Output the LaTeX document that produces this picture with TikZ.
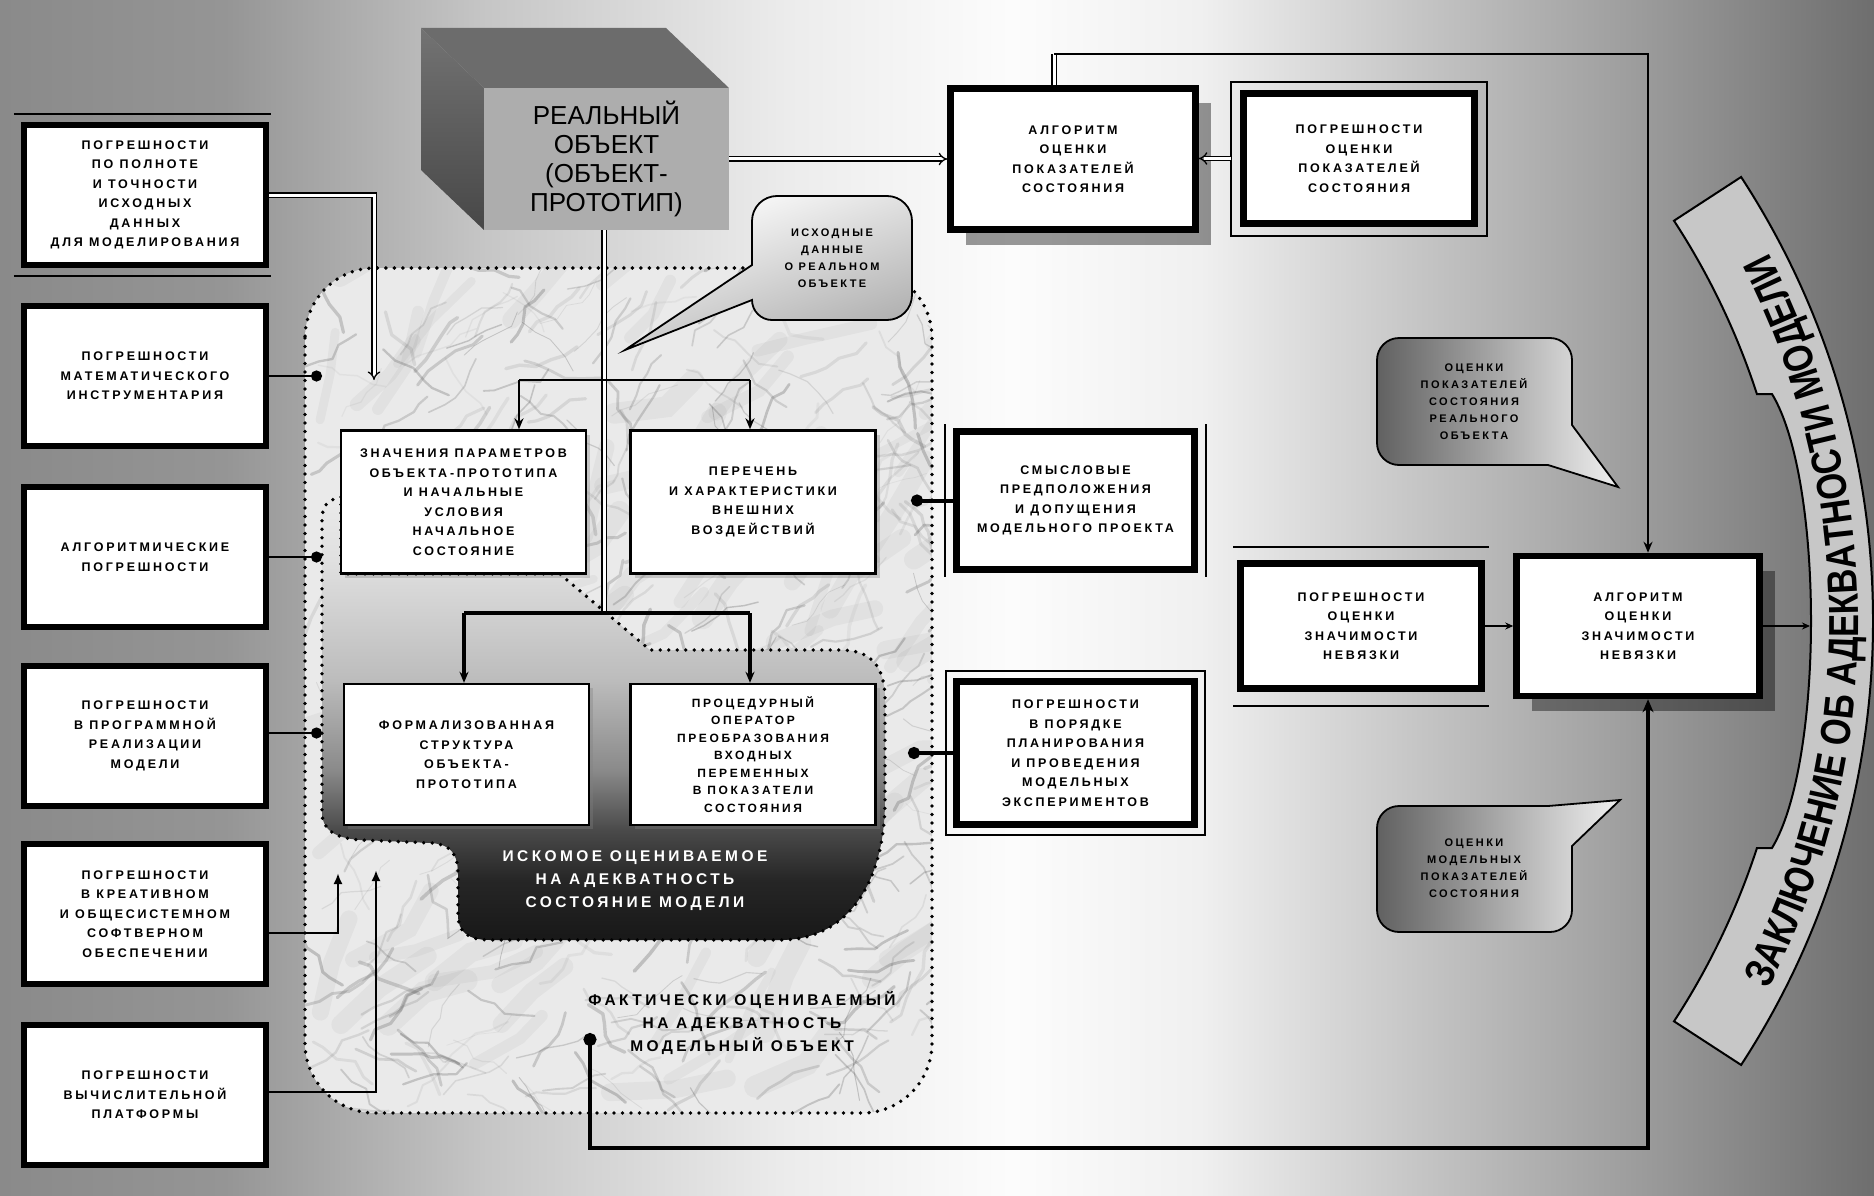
\documentclass[tikz,border=0pt]{standalone}
\usepackage{fontspec}
\setmainfont{Liberation Sans}
\newfontfamily\spacedsans{Liberation Sans}[LetterSpace=22]
\newfontfamily\arcfont{Liberation Sans}[FakeStretch=0.82]
\usetikzlibrary{arrows.meta,shadows,decorations.text}

% palette
\definecolor{bg0}{HTML}{8A8A8A}
\definecolor{bg1}{HTML}{959595}
\definecolor{bg2}{HTML}{C6C6C6}
\definecolor{bg3}{HTML}{ECECEC}
\definecolor{bg4}{HTML}{FCFCFC}
\definecolor{bg5}{HTML}{F0F0F0}
\definecolor{bg6}{HTML}{C4C4C4}
\definecolor{bg7}{HTML}{9A9A9A}
\definecolor{bg8}{HTML}{6E6E6E}
\definecolor{in1}{HTML}{EAEAEA}
\definecolor{in2}{HTML}{E0E0E0}
\definecolor{in3}{HTML}{BCBCBC}
\definecolor{in4}{HTML}{8A8A8A}
\definecolor{in5}{HTML}{4A4A4A}
\definecolor{in6}{HTML}{262626}
\definecolor{in7}{HTML}{181818}
\definecolor{marblebase}{HTML}{EAEAEA}
\definecolor{objfront}{HTML}{ADADAD}
\definecolor{objtop}{HTML}{6C6C6C}

\pgfdeclarehorizontalshading{bgshade}{100bp}{color(0bp)=(bg0); color(25bp)=(bg0);
  color(31bp)=(bg1); color(38bp)=(bg2); color(46bp)=(bg3); color(52bp)=(bg4);
  color(57bp)=(bg5); color(63bp)=(bg6); color(69bp)=(bg7); color(75bp)=(bg8); color(100bp)=(bg8)}
\pgfdeclareverticalshading{innershade}{100bp}{color(0bp)=(in7); color(25bp)=(in7);
  color(31.8bp)=(in6); color(37.4bp)=(in5); color(44.2bp)=(in4); color(54.3bp)=(in3);
  color(67.9bp)=(in2); color(75bp)=(in1); color(100bp)=(in1)}

\newcommand\bxtext{\spacedsans\bfseries\fontsize{12.5}{19.5}\selectfont}
\newcommand\bxtight{\spacedsans\bfseries\fontsize{12}{17.5}\selectfont}
\newcommand\cltext{\spacedsans\bfseries\fontsize{11}{17}\selectfont}
\newcommand\rgtext{\spacedsans\bfseries\fontsize{15.5}{23}\selectfont}
\newcommand\objtext{\fontsize{26}{29}\selectfont}
\newcommand\arctext{\arcfont\bfseries\fontsize{42}{42}\selectfont}

\begin{document}
\begin{tikzpicture}[x=1pt,y=-1pt,
  heavy/.style={draw=black, line width=6.5pt, fill=white, align=center, inner sep=1pt, font=\bxtext},
  lbox/.style={heavy, minimum width=242pt, minimum height=140pt},
  cbox/.style={draw=black, line width=2.4pt, fill=white, align=center, inner sep=1pt,
    font=\bxtext, minimum width=245pt, minimum height=143pt,
    drop shadow={shadow xshift=4pt, shadow yshift=-4pt, opacity=0.35}},
  bigshadow/.style={drop shadow={shadow xshift=15pt, shadow yshift=-15pt, fill=black, opacity=0.4}},
  rule/.style={draw=black, line width=1.6pt},
  dotline/.style={draw=black, line width=3.8pt, dash pattern=on 0pt off 8.5pt, line cap=round},
  link/.style={draw=black, line width=2.6pt},
  thinlink/.style={draw=black, line width=1.6pt},
  dbl/.style={draw=black, line width=1.3pt, double=white, double distance=3pt},
  tip/.style={-{Stealth[length=11pt,width=9pt]}},
  dotend/.style={-{Circle[length=11pt]}},
  balloon/.style={draw=black, line width=1.8pt},
]
\useasboundingbox (0,0) rectangle (1874,1196);

% ---------- backdrop ----------
\shade[shading=bgshade] (0,0) rectangle (1874,1196);

% ---------- curved conclusion banner ----------
\path[draw=black, line width=2pt, top color=black!22, middle color=black!4, bottom color=black!22]
  (1741.1,177) arc[start angle=33.1, end angle=-33.1, radius=813pt]
  -- (1674,1021.3) arc[start angle=-33.1, end angle=-18.04, radius=733pt]
  -- (1772,848) .. controls (1824,762) and (1824,480) .. (1772,394)
  -- (1756.9,394) arc[start angle=18.04, end angle=33.1, radius=733pt] -- cycle;
\path[decorate, decoration={text along path, text align=center,
    text={|\arctext|ЗАКЛЮЧЕНИЕ ОБ АДЕКВАТНОСТИ МОДЕЛИ}}]
  (1744.1,1032.5) arc[start angle=-31, end angle=31, radius=798pt];

% ---------- marble region: the model object ----------
\begin{scope}
  \clip[rounded corners=70pt] (305,268) rectangle (932,1113);
  \fill[marblebase] (305,268) rectangle (932,1113);
  \pgfmathsetseed{20231}
  % soft cloudy bands
  \foreach \j in {1,...,90}{
    \pgfmathsetmacro{\bx}{300+640*rnd}
    \pgfmathsetmacro{\by}{260+860*rnd}
    \pgfmathsetmacro{\ba}{-45+30*rand}
    \pgfmathsetmacro{\bw}{8+14*rnd}
    \draw[black, line width=\bw pt, opacity=0.035, line cap=round]
      (\bx,\by) -- ++({\ba+15*rand}:{30+40*rnd}) -- ++({\ba+15*rand}:{30+40*rnd});
  }
  % fine veins
  \foreach \i in {1,...,420}{
    \pgfmathsetmacro{\vx}{300+640*rnd}
    \pgfmathsetmacro{\vy}{260+860*rnd}
    \pgfmathsetmacro{\va}{rnd<0.6 ? -40+30*rand : 40+30*rand}
    \pgfmathsetmacro{\vw}{0.7+2.8*rnd}
    \pgfmathsetmacro{\vo}{0.06+0.24*rnd}
    \draw[black!65, line width=\vw pt, opacity=\vo, line cap=round, line join=round]
      (\vx,\vy) -- ++({\va+25*rand}:{8+12*rnd}) -- ++({\va+25*rand}:{8+12*rnd})
      -- ++({\va+25*rand}:{8+12*rnd}) -- ++({\va+25*rand}:{8+12*rnd})
      -- ++({\va+25*rand}:{8+12*rnd});
  }
\end{scope}
\draw[dotline, rounded corners=70pt] (305,268) rectangle (932,1113);

% ---------- inner region: the sought model state ----------
\shade[shading=innershade, dotline]
  (341,497) .. controls (328,500) and (322,505) .. (322,520) -- (322,812)
  .. controls (322,830) and (335,838) .. (360,840) -- (432,843)
  .. controls (452,845) and (458,855) .. (458,875) -- (458,915)
  .. controls (458,932) and (468,940) .. (490,940) -- (780,940)
  .. controls (850,940) and (885,880) .. (885,800) -- (885,700)
  .. controls (885,665) and (870,650) .. (840,650) -- (650,650)
  -- (560,574) -- (341,574) -- cycle;

% ---------- real object (3D block) ----------
\fill[objtop] (421,28) -- (666,28) -- (729,88) -- (484,88) -- cycle;
\shade[top color=black!55, bottom color=black!72] (421,28) -- (484,88) -- (484,230) -- (421,170) -- cycle;
\node[fill=objfront, minimum width=245pt, minimum height=142pt, inner sep=0pt,
  font=\objtext, align=center] (obj) at (606.5,159) {РЕАЛЬНЫЙ\\ОБЪЕКТ\\(ОБЪЕКТ-\\ПРОТОТИП)};

% ---------- error sources (left column) ----------
\node[lbox] (b1) at (145,195) {ПОГРЕШНОСТИ\\ПО ПОЛНОТЕ\\И ТОЧНОСТИ\\ИСХОДНЫХ\\ДАННЫХ\\ДЛЯ МОДЕЛИРОВАНИЯ};
\node[lbox] (b2) at (145,376) {ПОГРЕШНОСТИ\\МАТЕМАТИЧЕСКОГО\\ИНСТРУМЕНТАРИЯ};
\node[lbox] (b3) at (145,557) {АЛГОРИТМИЧЕСКИЕ\\ПОГРЕШНОСТИ};
\node[lbox] (b4) at (145,736) {ПОГРЕШНОСТИ\\В ПРОГРАММНОЙ\\РЕАЛИЗАЦИИ\\МОДЕЛИ};
\node[lbox] (b5) at (145,914) {ПОГРЕШНОСТИ\\В КРЕАТИВНОМ\\И ОБЩЕСИСТЕМНОМ\\СОФТВЕРНОМ\\ОБЕСПЕЧЕНИИ};
\node[lbox] (b6) at (145,1095) {ПОГРЕШНОСТИ\\ВЫЧИСЛИТЕЛЬНОЙ\\ПЛАТФОРМЫ};
\draw[rule] ([xshift=-7pt,yshift=8pt]b1.north west) -- ([xshift=2pt,yshift=8pt]b1.north east);
\draw[rule] ([xshift=-7pt,yshift=-8pt]b1.south west) -- ([xshift=2pt,yshift=-8pt]b1.south east);

% ---------- model components ----------
\node[cbox] (vals) at (463.5,502) {ЗНАЧЕНИЯ ПАРАМЕТРОВ\\ОБЪЕКТА-ПРОТОТИПА\\И НАЧАЛЬНЫЕ\\УСЛОВИЯ\\НАЧАЛЬНОЕ\\СОСТОЯНИЕ};
\node[cbox] (list) at (753,502) {ПЕРЕЧЕНЬ\\И ХАРАКТЕРИСТИКИ\\ВНЕШНИХ\\ВОЗДЕЙСТВИЙ};
\node[cbox, minimum height=141pt] (struct) at (466.5,754.5) {ФОРМАЛИЗОВАННАЯ\\СТРУКТУРА\\ОБЪЕКТА-\\ПРОТОТИПА};
\node[cbox, minimum height=141pt, font=\bxtight] (proc) at (753,754.5) {ПРОЦЕДУРНЫЙ\\ОПЕРАТОР\\ПРЕОБРАЗОВАНИЯ\\ВХОДНЫХ\\ПЕРЕМЕННЫХ\\В ПОКАЗАТЕЛИ\\СОСТОЯНИЯ};

\node[font=\rgtext, text=white, align=center] (sought) at (635,881) {ИСКОМОЕ ОЦЕНИВАЕМОЕ\\НА АДЕКВАТНОСТЬ\\СОСТОЯНИЕ МОДЕЛИ};
\node[font=\rgtext, align=center] (actual) at (742,1023) {ФАКТИЧЕСКИ ОЦЕНИВАЕМЫЙ\\НА АДЕКВАТНОСТЬ\\МОДЕЛЬНЫЙ ОБЪЕКТ};

% ---------- assessment chain (right) ----------
\node[heavy, minimum width=245pt, minimum height=141pt, bigshadow] (algS) at (1073,159) {АЛГОРИТМ\\ОЦЕНКИ\\ПОКАЗАТЕЛЕЙ\\СОСТОЯНИЯ};
\node[heavy, minimum width=231pt, minimum height=130pt] (errS) at (1359,158.5) {ПОГРЕШНОСТИ\\ОЦЕНКИ\\ПОКАЗАТЕЛЕЙ\\СОСТОЯНИЯ};
\draw[rule] ([xshift=-9pt,yshift=8pt]errS.north west) rectangle ([xshift=9pt,yshift=-9pt]errS.south east);

\node[heavy, minimum width=238pt, minimum height=138pt] (assum) at (1075.5,500.5) {СМЫСЛОВЫЕ\\ПРЕДПОЛОЖЕНИЯ\\И ДОПУЩЕНИЯ\\МОДЕЛЬНОГО ПРОЕКТА};
\draw[rule] ([xshift=-8pt,yshift=4pt]assum.north west) -- ([xshift=-8pt,yshift=-4pt]assum.south west);
\draw[rule] ([xshift=8pt,yshift=4pt]assum.north east) -- ([xshift=8pt,yshift=-4pt]assum.south east);

\node[heavy, minimum width=238pt, minimum height=143pt] (plan) at (1075.5,753) {ПОГРЕШНОСТИ\\В ПОРЯДКЕ\\ПЛАНИРОВАНИЯ\\И ПРОВЕДЕНИЯ\\МОДЕЛЬНЫХ\\ЭКСПЕРИМЕНТОВ};
\draw[rule] ([xshift=-7pt,yshift=7pt]plan.north west) rectangle ([xshift=7pt,yshift=-7pt]plan.south east);

\node[heavy, minimum width=241pt, minimum height=125pt] (errN) at (1361,626) {ПОГРЕШНОСТИ\\ОЦЕНКИ\\ЗНАЧИМОСТИ\\НЕВЯЗКИ};
\draw[rule] ([xshift=-4pt,yshift=13pt]errN.north west) -- ([xshift=4pt,yshift=13pt]errN.north east);
\draw[rule] ([xshift=-4pt,yshift=-14pt]errN.south west) -- ([xshift=4pt,yshift=-14pt]errN.south east);

\node[heavy, minimum width=243pt, minimum height=140pt, bigshadow] (algN) at (1638,626) {АЛГОРИТМ\\ОЦЕНКИ\\ЗНАЧИМОСТИ\\НЕВЯЗКИ};

% ---------- speech balloons ----------
\path[balloon, top color=white, bottom color=black!32, shading angle=20]
  (777,196) -- (887,196) arc[start angle=90, end angle=0, radius=25pt]
  -- (912,295) arc[start angle=0, end angle=-90, radius=25pt]
  -- (772,320) arc[start angle=270, end angle=180, radius=20pt]
  -- (625,350) -- (752,265) -- (752,221) arc[start angle=180, end angle=90, radius=25pt] -- cycle;
\node[font=\cltext, align=center] (srcdata) at (832,258) {ИСХОДНЫЕ\\ДАННЫЕ\\О РЕАЛЬНОМ\\ОБЪЕКТЕ};

\path[balloon, left color=black!62, right color=black!6]
  (1399,338) -- (1550,338) arc[start angle=90, end angle=0, radius=22pt]
  -- (1572,425) -- (1618,487) -- (1548,465)
  -- (1399,465) arc[start angle=270, end angle=180, radius=22pt]
  -- (1377,360) arc[start angle=180, end angle=90, radius=22pt] -- cycle;
\node[font=\cltext, align=center] (realest) at (1474,402) {ОЦЕНКИ\\ПОКАЗАТЕЛЕЙ\\СОСТОЯНИЯ\\РЕАЛЬНОГО\\ОБЪЕКТА};

\path[balloon, left color=black!62, right color=black!6]
  (1399,806) -- (1548,806) -- (1620,800) -- (1572,846)
  -- (1572,910) arc[start angle=0, end angle=-90, radius=22pt]
  -- (1399,932) arc[start angle=270, end angle=180, radius=22pt]
  -- (1377,828) arc[start angle=180, end angle=90, radius=22pt] -- cycle;
\node[font=\cltext, align=center] (modest) at (1474,868) {ОЦЕНКИ\\МОДЕЛЬНЫХ\\ПОКАЗАТЕЛЕЙ\\СОСТОЯНИЯ};

% ---------- connectors ----------
% real object feeds the model and the state estimation
\coordinate (spine) at (604,613);
\draw[dbl] (obj.south -| spine) -- (spine);
\draw[dbl, -{Implies}] (obj.east) -- (algS.west |- obj.east);
\draw[dbl, -{Implies}] ([xshift=-9pt]errS.west) -- (algS.east |- errS.west);

\coordinate (br1a) at (519,380);
\coordinate (br1b) at (750,380);
\draw[link] (br1a) -- (br1b);
\draw[link, tip] (br1a) -- (vals.north -| br1a);
\draw[link, tip] (br1b) -- (list.north -| br1b);
\coordinate (br2a) at (464,613);
\draw[link, line width=3.5pt] (br2a) -- (spine) -- (spine -| br1b);
\draw[link, line width=3.5pt, tip] (br2a) -- (struct.north -| br2a);
\draw[link, line width=3.5pt, tip] (spine -| br1b) -- (proc.north -| br1b);

% error sources act on the model
\coordinate (k1a) at (374,195);
\coordinate (k1b) at (374,380);
\draw[dbl, -{Implies}] (b1.east) -- (k1a) -- (k1b);
\coordinate (dx) at (322,0);
\draw[link, dotend] (b2.east) -- (b2.east -| dx);
\draw[link, dotend] (b3.east) -- (b3.east -| dx);
\draw[link, dotend] ([yshift=3pt]b4.east) -- ([yshift=3pt]b4.east -| dx);
\coordinate (k5) at (338,933);
\coordinate (k5t) at (338,873);
\draw[link, -{Latex[length=11pt,width=9pt]}] (b5.east |- k5) -- (k5) -- (k5t);
\coordinate (k6) at (376,1092);
\coordinate (k6t) at (376,870);
\draw[link, -{Latex[length=11pt,width=9pt]}] (b6.east |- k6) -- (k6) -- (k6t);

\coordinate (eDot) at (911,500.5);
\draw[link, line width=4pt, -{Circle[length=12pt]}] (assum.west) -- (eDot);
\coordinate (pDot) at (908,753);
\draw[link, line width=4pt, -{Circle[length=12pt]}] (plan.west) -- (pDot);

% state estimates go to the residual significance test
\coordinate (tA) at (1054,54);
\coordinate (tC) at (1648,54);
\draw[dbl] (algS.north -| tA) -- (tA);
\draw[thinlink, tip] (tA) -- (tC) -- (algN.north -| tC);
\coordinate (mdot) at (590,1033);
\coordinate (fb) at (1648,1148);
\draw[link, line width=3.5pt, {Circle[length=13pt]}-{Stealth[length=13pt,width=11pt]}] (mdot) |- (fb) -- (algN.south -| fb);
\draw[thinlink, -{Stealth[length=8pt,width=7pt]}] (errN.east) -- (algN.west);
\coordinate (bn) at (1810,626);
\draw[thinlink, -{Stealth[length=8pt,width=7pt]}] (algN.east) -- (bn);

\end{tikzpicture}
\end{document}
